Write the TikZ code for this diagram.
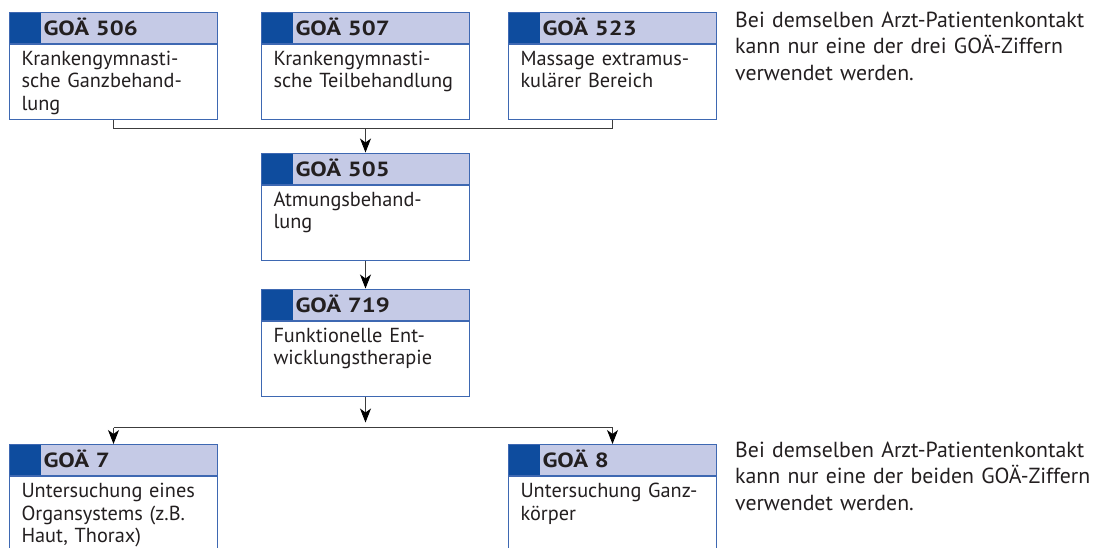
\documentclass[tikz,border=0pt]{standalone}
\usepackage{fontspec}
\setmainfont{PT Sans}
\newfontfamily\kopfschrift[FakeStretch=1.2]{PT Sans}
\usepackage{tikz}
\usetikzlibrary{arrows.meta, positioning}
\definecolor{KopfLila}{RGB}{197, 202, 230}
\definecolor{KopfBlau}{RGB}{14, 76, 158}
\definecolor{RahmenBlau}{RGB}{62, 104, 178}
\definecolor{TextSchwarz}{RGB}{35, 31, 32}
\definecolor{LinienGrau}{RGB}{60, 60, 60}

\begin{document}
\begin{tikzpicture}[
		x=1pt, y=1pt,
		node distance=0pt,
		kopf/.style={
			rectangle, draw=RahmenBlau, fill=KopfLila, line width=1pt,
			text width=140pt, inner xsep=34pt, inner ysep=3pt,
			text height=20pt, text depth=5pt, align=left,
			font=\kopfschrift\fontsize{20.5}{24}\selectfont\bfseries, text=TextSchwarz,
			path picture={\fill[KopfBlau] (path picture bounding box.north west) rectangle ([xshift=31pt]path picture bounding box.south west);}
		},
		rumpf/.style={
			rectangle, draw=RahmenBlau, fill=white, line width=1pt,
			text width=184pt, inner xsep=12pt, inner ysep=6pt,
			text height=15pt, text depth=48pt, align=left,
			font=\fontsize{20.3}{22.5}\selectfont, text=TextSchwarz
		},
		hinweis/.style={
			text width=362pt, inner sep=0pt, align=left,
			font=\fontsize{21.8}{26.5}\selectfont, text=TextSchwarz
		},
		linie/.style={draw=LinienGrau, line width=0.9pt},
		pfeil/.style={linie, -{Stealth[length=14pt, width=11pt, inset=4pt, color=black]}}
		]
		
		\useasboundingbox (0,0) rectangle (1097,-547);
		
		% obere Reihe
		\node[kopf, anchor=north west] (k506) at (9,-11.5) {GOÄ 506};
		\node[rumpf, below=of k506] (r506) {Krankengymnasti-\\sche Ganzbehand-\\lung};
		\node[kopf, right=43pt of k506] (k507) {GOÄ 507};
		\node[rumpf, below=of k507] (r507) {Krankengymnasti-\\sche Teilbehandlung};
		\node[kopf, right=38pt of k507] (k523) {GOÄ 523};
		\node[rumpf, below=of k523] (r523) {Massage extramus-\\kulärer Bereich};
		
		% Mitte
		\node[kopf, below=33pt of r507] (k505) {GOÄ 505};
		\node[rumpf, below=of k505] (r505) {Atmungsbehand-\\lung};
		\node[kopf, below=28pt of r505] (k719) {GOÄ 719};
		\node[rumpf, below=of k719] (r719) {Funktionelle Ent-\\wicklungstherapie};
		
		% untere Reihe
		\node[kopf, anchor=north] (k7) at (k506.north |- 0,-444) {GOÄ 7};
		\node[rumpf, below=of k7] (r7) {Untersuchung eines\\Organsystems (z.B.\\Haut, Thorax)};
		\node[kopf, anchor=north] (k8) at (k523.north |- 0,-444) {GOÄ 8};
		\node[rumpf, below=of k8] (r8) {Untersuchung Ganz-\\körper};
		
		% Hinweise
		\node[hinweis, anchor=base west] (hinweis3) at (735,-27) {Bei demselben Arzt-Patientenkontakt\\kann nur eine der drei GOÄ-Ziffern\\verwendet werden.};
		\node[hinweis, anchor=base west] (hinweis2) at (735,-457) {Bei demselben Arzt-Patientenkontakt\\kann nur eine der beiden GOÄ-Ziffern\\verwendet werden.};
		
		% Verbindungen
		\draw [linie] (r506.south) -- ++(0,-9) coordinate (sammel) -| (r523.south);
		\draw [pfeil] (sammel -| k505.north) -- (k505.north);
		\draw [pfeil] (r505.south) -- (k719.north);
		\coordinate (verteiler) at ([yshift=-31pt]r719.south);
		\draw [pfeil] (r719.south) -- ([yshift=5pt]verteiler);
		\draw [pfeil] (verteiler -| k7.north) -- (k7.north);
		\draw [pfeil] (verteiler -| k8.north) -- (k8.north);
		\draw [linie] (verteiler -| k7.north) -- (verteiler -| k8.north);
	\end{tikzpicture}
\end{document}
